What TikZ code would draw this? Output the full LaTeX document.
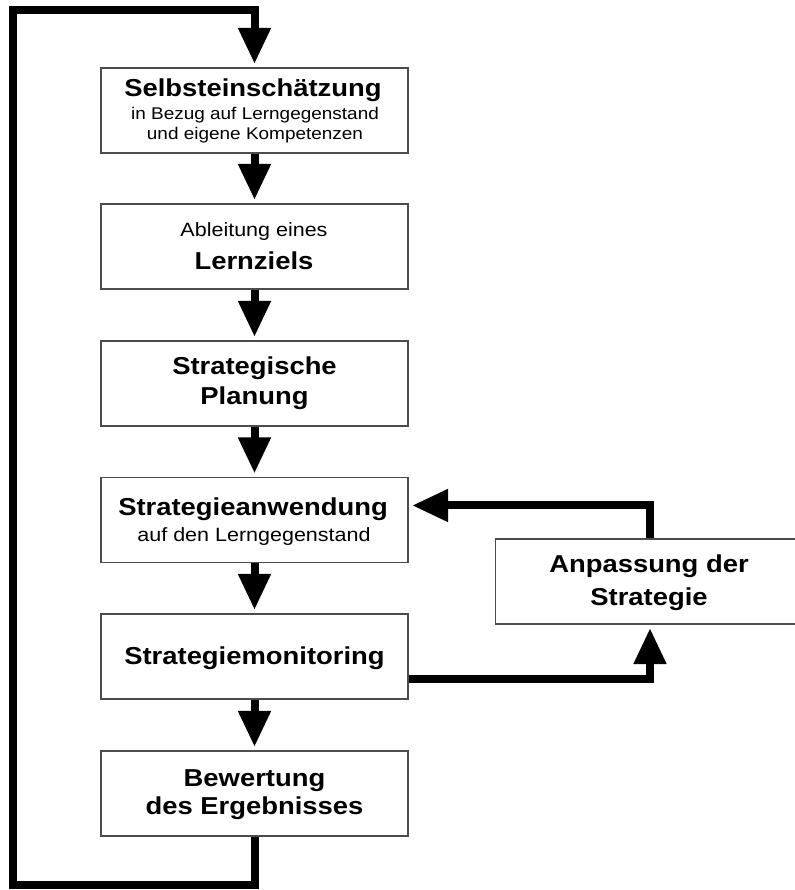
\documentclass[tikz,border=0pt]{standalone}
\usepackage{fontspec}
\setmainfont{Liberation Sans}[FakeStretch=1.12]
\usetikzlibrary{arrows.meta}
\begin{document}
\begin{tikzpicture}[x=0.75pt,y=-0.75pt,
  box/.style={draw=black!70,line width=1.2pt,minimum width=230.25pt,minimum height=63.75pt,inner sep=0pt,fill=white},
  big/.style={anchor=base,font=\fontsize{18.35}{20}\selectfont\bfseries,inner sep=0pt},
  small/.style={anchor=base,font=\fontsize{12.7}{14}\selectfont,inner sep=0pt},
  mid/.style={anchor=base,font=\fontsize{14.4}{16}\selectfont,inner sep=0pt},
  conn/.style={line width=6pt,-{Triangle[width=23.25pt,length=27pt]},shorten >=2.5pt}]
\useasboundingbox[fill=white] (0,0) rectangle (795,890);

\node[box] (b1) at (254.5,110.5) {};
\node[box] (b2) at (254.5,246.5) {};
\node[box] (b3) at (254.5,383.5) {};
\node[box] (b4) at (254.5,520) {};
\node[box] (b5) at (254.5,656.5) {};
\node[box] (b6) at (254.5,793.5) {};
\node[box,minimum width=233.25pt] (adapt) at (651,581.5) {};

\node[big] (t1a) at (253,96) {Selbsteinschätzung};
\node[small] (t1b) at (255,119) {in Bezug auf Lerngegenstand};
\node[small] (t1c) at (255,139) {und eigene Kompetenzen};

\node[mid] (t2a) at (254,236) {Ableitung eines};
\node[big] (t2b) at (254,269) {Lernziels};

\node[big] (t3a) at (254.5,374) {Strategische};
\node[big] (t3b) at (254.5,404) {Planung};

\node[big] (t4a) at (253,515) {Strategieanwendung};
\node[mid] (t4b) at (254,541) {auf den Lerngegenstand};

\node[big] (t5a) at (254.5,664) {Strategiemonitoring};

\node[big] (t6a) at (254.5,786) {Bewertung};
\node[big] (t6b) at (254.5,814) {des Ergebnisses};

\node[big] (tra) at (649,572) {Anpassung der};
\node[big] (trb) at (649,605) {Strategie};

\coordinate (c1) at (254.5,885);
\coordinate (c2) at (13,885);
\coordinate (c3) at (13,10);
\coordinate (c4) at (254.5,10);

\draw[conn] (b6.south) -- (c1) -- (c2) -- (c3) -- (c4) -- (b1.north);
\draw[conn] (b1) -- (b2);
\draw[conn] (b2) -- (b3);
\draw[conn] (b3) -- (b4);
\draw[conn] (b4) -- (b5);
\draw[conn] (b5) -- (b6);
\draw[conn] ([xshift=-0.75pt]adapt.north) |- ([yshift=10.9pt]b4.east);
\draw[conn] ([yshift=-16.9pt]b5.east) -| ([xshift=-0.75pt]adapt.south);
\end{tikzpicture}
\end{document}
